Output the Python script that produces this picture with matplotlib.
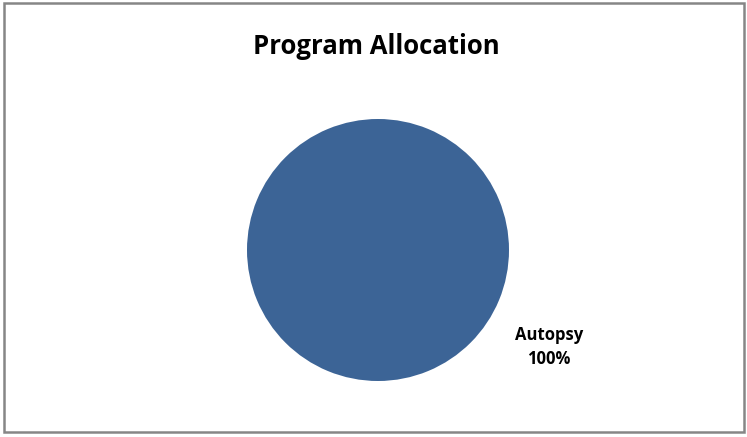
import matplotlib
matplotlib.use('Agg')
import matplotlib.pyplot as plt
from matplotlib.patches import Rectangle

# chart data
categories = ['Autopsy']
values = [100]
slice_colors = ['#3c6496']
chart_title = 'Program Allocation'

W, H = 747, 437
fig = plt.figure(figsize=(W / 100, H / 100), dpi=100)
plt.rcParams['font.family'] = ['Open Sans', 'DejaVu Sans']

# outer chart border
fig.patches.append(Rectangle((4 / W, 5 / H), 740 / W, 429 / H, transform=fig.transFigure,
                             fill=False, edgecolor='#868686', linewidth=1.8))

ax = fig.add_axes([0, 0, 1, 1])
labels = ['%s\n%d%%' % (c, v) for c, v in zip(categories, values)]
wedges, texts = ax.pie(values, labels=labels, colors=slice_colors, center=(378, 187),
                       radius=131, startangle=150.4, labeldistance=1.5,
                       textprops={'fontsize': 12, 'fontweight': 'bold'})
for t in texts:
    t.set_ha('center')
    t.set_va('center')
    t.set_multialignment('center')
    t.set_linespacing(1.45)

# pie() resets the limits, so set pixel-like limits afterwards
ax.set_xlim(0, W)
ax.set_ylim(0, H)
ax.set_aspect('equal')
ax.axis('off')

ax.text(376, 437 - 46, chart_title, ha='center', va='center', fontsize=18.5, fontweight='bold')

fig.savefig('out.png', dpi=100)
